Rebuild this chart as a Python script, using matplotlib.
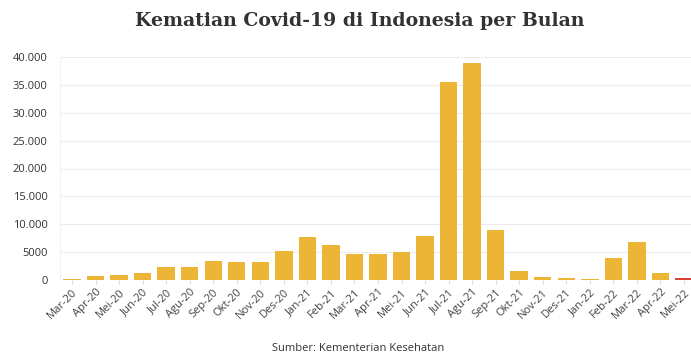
import matplotlib
matplotlib.use("Agg")
import matplotlib.pyplot as plt
from matplotlib.ticker import FuncFormatter

months = ["Mar-20", "Apr-20", "Mei-20", "Jun-20", "Jul-20", "Agu-20", "Sep-20", "Okt-20",
          "Nov-20", "Des-20", "Jan-21", "Feb-21", "Mar-21", "Apr-21", "Mei-21", "Jun-21",
          "Jul-21", "Agu-21", "Sep-21", "Okt-21", "Nov-21", "Des-21", "Jan-22", "Feb-22",
          "Mar-22", "Apr-22", "Mei-22"]
deaths = [140, 720, 900, 1260, 2280, 2280, 3350, 3170,
          3170, 5270, 7780, 6230, 4730, 4730, 5090, 7960,
          35570, 38860, 8980, 1560, 480, 300, 180, 4010,
          6830, 1200, 360]
yticks = [0, 5000, 10000, 15000, 20000, 25000, 30000, 35000, 40000]

bar_color = "#EDB535"
last_color = "#D9413A"
colors = [bar_color] * (len(months) - 1) + [last_color]

fig = plt.figure(figsize=(6.91, 3.56), dpi=100)
ax = fig.add_axes([60 / 691, 1 - 280 / 356, (691 - 60) / 691, (280 - 57) / 356])

x = list(range(len(months)))
ax.bar(x, deaths, width=0.74, color=colors, zorder=3)

ax.set_ylim(0, 40000)
ax.set_xlim(-0.51, len(months) - 0.7)
ax.set_yticks(yticks)
ax.yaxis.set_major_formatter(FuncFormatter(
    lambda v, p: "0" if v == 0 else ("5000" if v == 5000 else f"{int(v):,}".replace(",", "."))))
ax.set_xticks(x)
ax.set_xticklabels(months, rotation=45, ha="right", rotation_mode="anchor")

ax.grid(axis="y", color="#ECECEC", linewidth=0.8, zorder=0)
for s in ["top", "right", "bottom"]:
    ax.spines[s].set_visible(False)
ax.spines["left"].set_color("#F2F2F2")
ax.spines["left"].set_linewidth(0.8)
ax.tick_params(axis="y", length=0, pad=9, labelsize=8, labelcolor="#333333")
ax.tick_params(axis="x", length=3, color="#DDDDDD", pad=2, labelsize=8, labelcolor="#444444")
for lab in ax.get_yticklabels() + ax.get_xticklabels():
    lab.set_family(["Open Sans", "DejaVu Sans"])

fig.text(0.52, 0.94, "Kematian Covid-19 di Indonesia per Bulan", ha="center", va="center",
         fontsize=13.6, fontweight="bold", color="#333333", family=["DejaVu Serif"])
fig.text(0.518, 0.022, "Sumber: Kementerian Kesehatan", ha="center", va="center",
         fontsize=8, color="#333333", family=["Open Sans", "DejaVu Sans"])

fig.savefig("out.png", dpi=100)
